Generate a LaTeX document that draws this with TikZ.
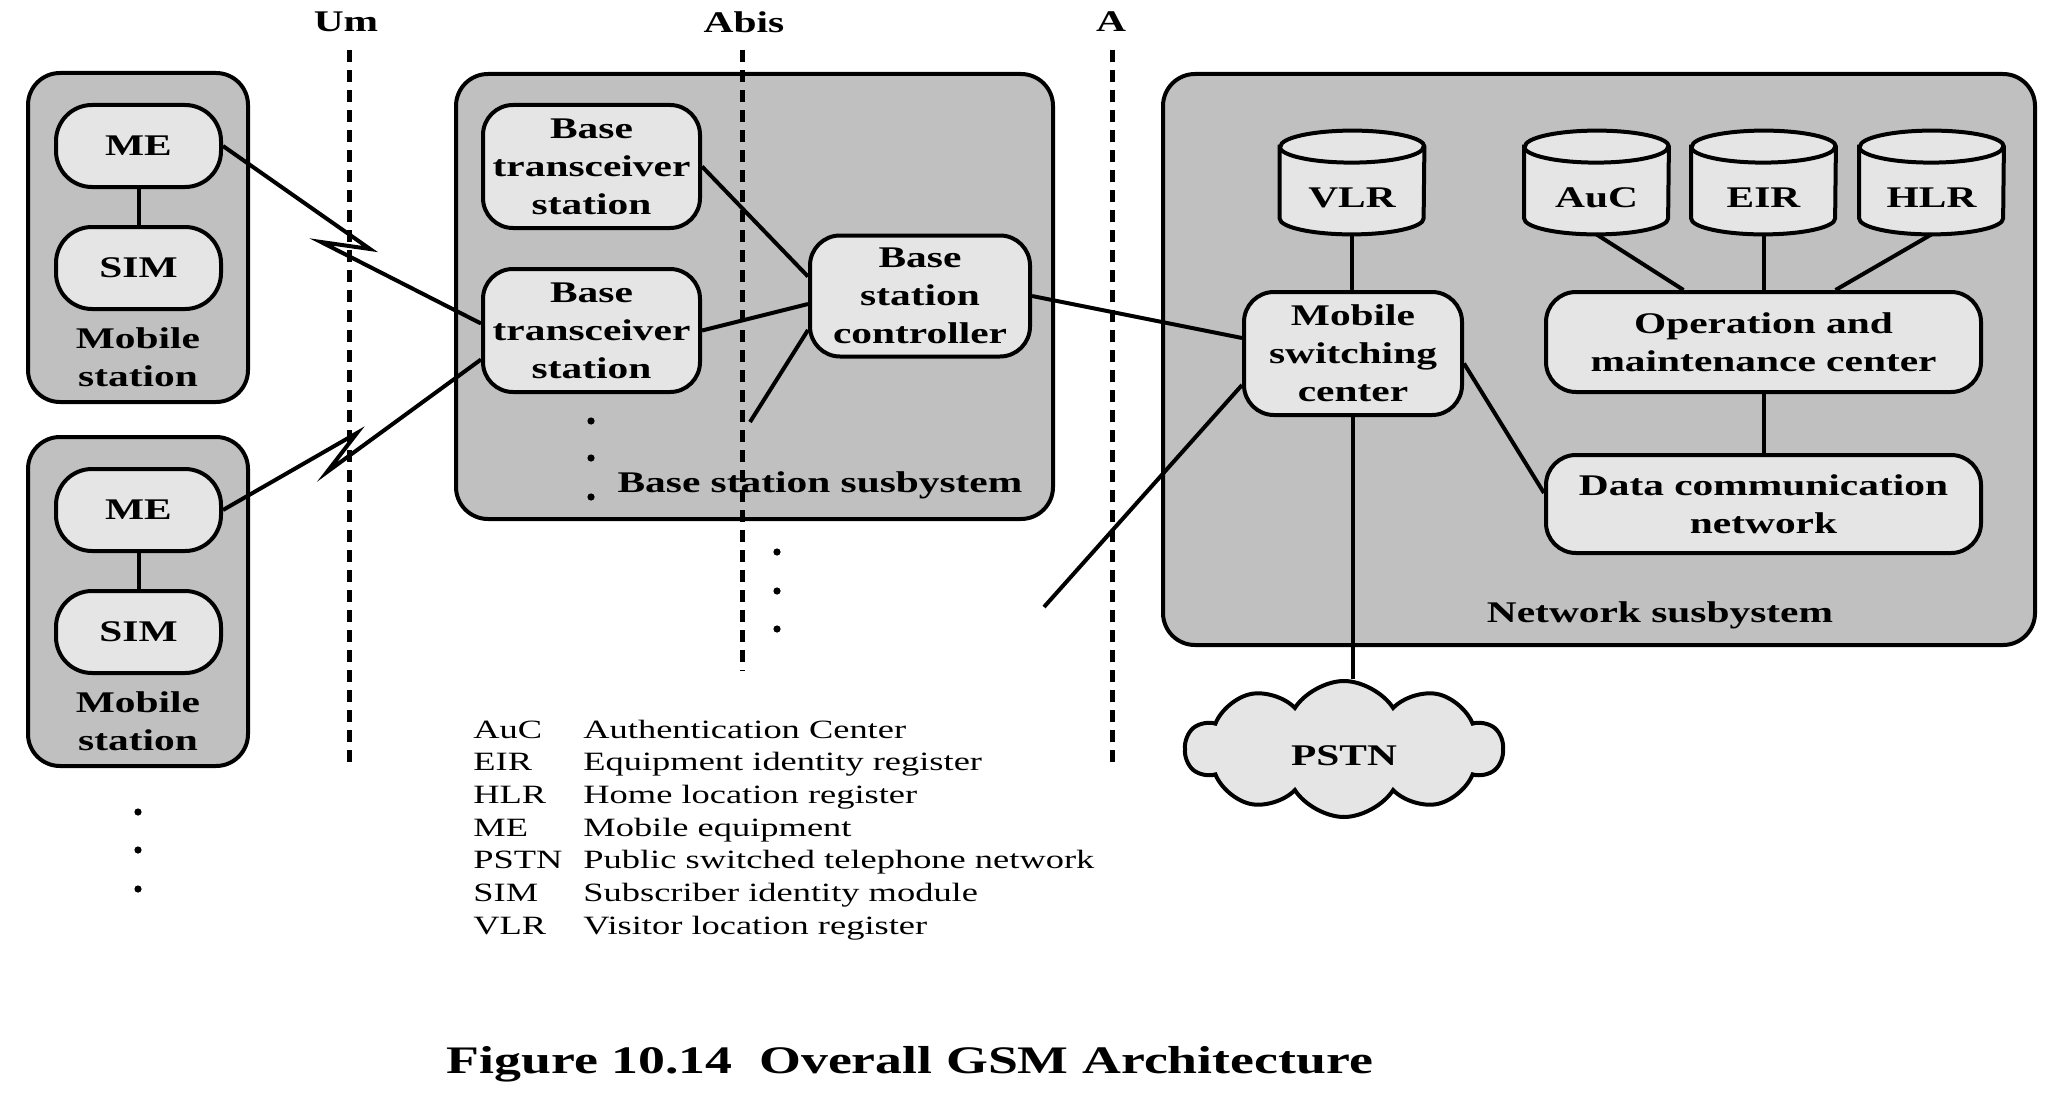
\documentclass[tikz,border=0pt]{standalone}
\usepackage{fontspec}
\setmainfont{Liberation Serif}[FakeStretch=1.38]
\usetikzlibrary{calc,shapes.symbols}
\definecolor{outerfill}{RGB}{192,192,192}
\definecolor{innerfill}{RGB}{229,229,229}
\newcommand\gsmcyl[1]{%
  \draw[cylline] ($(#1.north west)+(0,16)$) -- ($(#1.south west)+(0,-16)$)
    arc[start angle=180,end angle=360,x radius=36pt,y radius=8pt]
    -- ($(#1.north east)+(0,16)$)
    arc[start angle=0,end angle=180,x radius=36pt,y radius=8pt] -- cycle;
  \draw[line width=2pt] ($(#1.north west)+(0,16)$)
    arc[start angle=180,end angle=360,x radius=36pt,y radius=8pt];
}
\begin{document}
\begin{tikzpicture}[x=0.5pt,y=-0.5pt,
  lbl/.style={font=\bfseries\fontsize{15}{19}\selectfont, align=center, inner sep=1pt},
  outerbox/.style={draw, line width=2pt, fill=outerfill, rounded corners=16pt, inner sep=0pt},
  innerbox/.style={draw, line width=2pt, fill=innerfill, rounded corners=15pt, inner sep=2pt,
    align=center, font=\bfseries\fontsize{15}{19}\selectfont},
  mebox/.style={innerbox, minimum width=82.5pt, minimum height=41pt, rounded corners=18pt},
  cylbox/.style={inner sep=0pt, minimum width=72pt, minimum height=51.5pt},
  cylline/.style={draw, line width=2pt, fill=innerfill},
  conn/.style={line width=2pt},
  iface/.style={line width=2.5pt, dash pattern=on 6pt off 4pt},
  legend/.style={font=\fontsize{13.2}{16}\selectfont, anchor=base west, inner sep=0pt},
  dotmark/.style={fill=black}
]
\useasboundingbox (0,0) rectangle (2048,1097);

% ---------- Mobile stations ----------
\node[outerbox, minimum width=110pt, minimum height=164.5pt] (ms1) at (138,237.5) {};
\node[mebox] (me1) at (138.5,146) {ME};
\node[mebox] (sim1) at (138.5,268) {SIM};
\node[lbl] (ms1t) at (138,357) {Mobile\\station};
\draw[conn] (me1) -- (sim1);

\node[outerbox, minimum width=110pt, minimum height=164.5pt] (ms2) at (138,601.5) {};
\node[mebox] (me2) at (138.5,510) {ME};
\node[mebox] (sim2) at (138.5,632) {SIM};
\node[lbl] (ms2t) at (138,721) {Mobile\\station};
\draw[conn] (me2) -- (sim2);

\foreach \yy in {812,850,889} \fill[dotmark] (138,\yy) circle[radius=1.8pt];

% ---------- Base station subsystem ----------
\node[outerbox, minimum width=298.5pt, minimum height=222.5pt] (bss) at (754.5,296.5) {};
\node[innerbox, minimum width=108.5pt, minimum height=61.5pt] (bts1) at (591.5,166.5) {Base\\transceiver\\station};
\node[innerbox, minimum width=108.5pt, minimum height=61.5pt] (bts2) at (591.5,330.5) {Base\\transceiver\\station};
\node[innerbox, minimum width=110pt, minimum height=60.5pt] (bsc) at (920,296) {Base\\station\\controller};
\node[lbl] (bsst) at (820,485) {Base station susbystem};
\foreach \yy in {421,458,497} \fill[dotmark] (591,\yy) circle[radius=1.8pt];
\foreach \yy in {552,591,629} \fill[dotmark] (777,\yy) circle[radius=1.8pt];

% ---------- Network subsystem ----------
\node[outerbox, minimum width=436pt, minimum height=285.5pt] (nss) at (1599,359.5) {};
\node[cylbox] (vlr) at (1352,182.5) {};
\node[cylbox] (auc) at (1596.5,182.5) {};
\node[cylbox] (eir) at (1763.5,182.5) {};
\node[cylbox] (hlr) at (1931.5,182.5) {};
\gsmcyl{vlr}\gsmcyl{auc}\gsmcyl{eir}\gsmcyl{hlr}
\node[lbl] (vlrt) at (1352,198) {VLR};
\node[lbl] (auct) at (1596.5,198) {AuC};
\node[lbl] (eirt) at (1763.5,198) {EIR};
\node[lbl] (hlrt) at (1931.5,198) {HLR};
\node[innerbox, minimum width=109pt, minimum height=61.5pt] (msc) at (1353,353.5) {Mobile\\switching\\center};
\node[innerbox, minimum width=217.5pt, minimum height=50pt] (omc) at (1763.5,342) {Operation and\\maintenance center};
\node[innerbox, minimum width=217.5pt, minimum height=49pt] (dcn) at (1763.5,504) {Data communication\\network};
\node[lbl] (nsst) at (1660,615) {Network susbystem};

\node[cloud, draw, line width=2pt, fill=innerfill, cloud puffs=10, cloud puff arc=115, aspect=2.3,
  minimum width=158.5pt, minimum height=68pt, inner sep=0pt, text height=16pt, text depth=0pt,
  font=\bfseries\fontsize{15}{19}\selectfont] (pstn) at (1344,749) {PSTN};

% ---------- free ends ----------
\coordinate (z1a) at (370,249);
\coordinate (z1b) at (321,242);
\coordinate (z2a) at (357,433);
\coordinate (z2b) at (327,472);
\coordinate (bscfree) at (750,422);
\coordinate (mscfree) at (1044,607);

% ---------- connectors ----------
\draw[conn] (me1.east) -- (z1a) -- (z1b) -- ($(bts2.west)+(0,-7)$);
\draw[conn] (me2.east) -- (z2a) -- (z2b) -- ($(bts2.west)+(0,29)$);
\draw[conn] (bts1.east) -- ($(bsc.west)+(0,-19.5)$);
\draw[conn] (bts2.east) -- ($(bsc.west)+(0,8)$);
\draw[conn] ($(bsc.west)+(0,34)$) -- (bscfree);
\draw[conn] (bsc.east) -- ($(msc.west)+(0,-15.5)$);
\draw[conn] ($(msc.west)+(0,31.5)$) -- (mscfree);
\draw[conn] (vlr.south) -- (vlr.south |- msc.north);
\draw[conn] (auc.south) -- ($(omc.north)+(-80,0)$);
\draw[conn] (eir.south) -- (omc.north);
\draw[conn] (hlr.south) -- ($(omc.north)+(72,0)$);
\draw[conn] (omc) -- (dcn);
\draw[conn] ($(msc.east)+(0,10)$) -- ($(dcn.west)+(0,-11)$);
\draw[conn] (msc.south) -- (msc.south |- pstn.north);

% ---------- interfaces ----------
\coordinate (umtop) at (349,50);   \coordinate (umbot) at (349,765);
\coordinate (abtop) at (742,50);   \coordinate (abbot) at (742,671);
\coordinate (atop) at (1112,50);   \coordinate (abot) at (1112,763);
\draw[iface] (umtop) -- (umbot);
\draw[iface] (abtop) -- (abbot);
\draw[iface] (atop) -- (abot);
\node[lbl] (um) at (346,22) {Um};
\node[lbl] (abis) at (744,22) {Abis};
\node[lbl] (ainterf) at (1111,22) {A};

% ---------- legend ----------
\foreach \ab/\de [count=\i from 0] in {AuC/Authentication Center,EIR/Equipment identity register,
  HLR/Home location register,ME/Mobile equipment,PSTN/Public switched telephone network,
  SIM/Subscriber identity module,VLR/Visitor location register}{
  \node[legend] (lega\i) at (473,738+32.7*\i) {\ab};
  \node[legend] (legd\i) at (583,738+32.7*\i) {\de};
}

% ---------- caption ----------
\node[anchor=base west, inner sep=0pt, font=\bfseries\fontsize{19.5}{23}\selectfont] (caption)
  at (446,1073) {Figure 10.14\ \ Overall GSM Architecture};
\end{tikzpicture}
\end{document}
